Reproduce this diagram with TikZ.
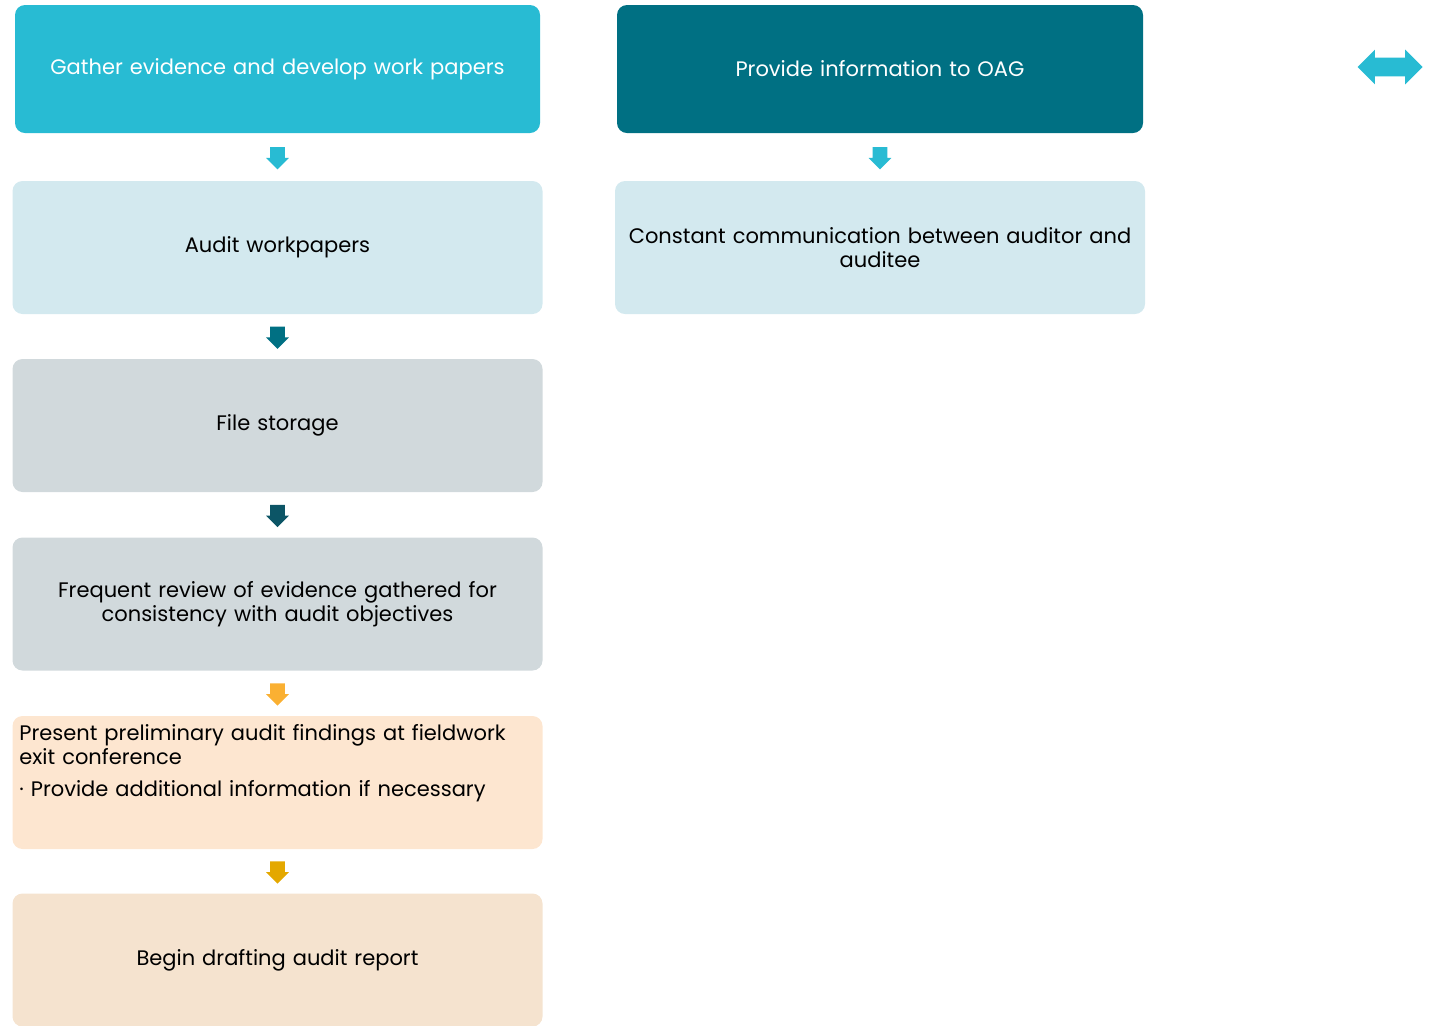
\documentclass[tikz,border=0pt]{standalone}
\usepackage{fontspec}
\setmainfont{Poppins}
\usetikzlibrary{shapes.arrows,calc,positioning}

\definecolor{oagcyan}{RGB}{40,187,211}
\definecolor{oagteal}{RGB}{0,112,131}
\definecolor{oagdark}{RGB}{12,85,102}
\definecolor{oagpaleblue}{RGB}{211,233,239}
\definecolor{oaggrey}{RGB}{209,217,220}
\definecolor{oagpeach}{RGB}{253,230,208}
\definecolor{oagsand}{RGB}{245,227,207}
\definecolor{oagorange}{RGB}{250,176,50}
\definecolor{oaggold}{RGB}{228,168,0}

\tikzset{
  stepbox/.style={rounded corners=5pt, minimum width=265pt, minimum height=66.5pt,
    text width=262pt, align=center, inner sep=0pt,
    font=\fontsize{10.5}{12}\selectfont},
  downarrow/.style={single arrow, shape border rotate=270, inner sep=3.5pt,
    minimum height=11pt, single arrow head extend=2pt}
}

\begin{document}
\begin{tikzpicture}[x=0.5pt,y=-0.5pt]
  \useasboundingbox (0,0) rectangle (1433,1025);
  \hyphenpenalty=10000

  % Left column
  \node[stepbox, fill=oagcyan, text=white, minimum width=262.5pt, minimum height=64pt] (gather) at (277.5,69) {Gather evidence and develop work papers};
  \node[stepbox, fill=oagpaleblue] (audit) at (277.5,247.5) {Audit workpapers};
  \node[stepbox, fill=oaggrey] (storage) at (277.5,425.5) {File storage};
  \node[stepbox, fill=oaggrey] (review) at (277.5,604) {Frequent review of evidence gathered for\\consistency with audit objectives};
  \node[stepbox, fill=oagpeach] (present) at (277.5,782.5) {};
  \node[anchor=north west, text width=260pt, align=left, inner sep=0pt,
    font=\fontsize{10.5}{12}\selectfont] (presenttext) at (19,724)
    {Present preliminary audit findings at fieldwork exit conference\par
     \vspace{4pt}· Provide additional information if necessary};
  \node[stepbox, fill=oagsand] (draft) at (277.5,960) {Begin drafting audit report};

  % Right column
  \node[stepbox, fill=oagteal, text=white, minimum width=263pt, minimum height=64pt] (provide) at (880,69) {Provide information to OAG};
  \node[stepbox, fill=oagpaleblue] (talk) at (880,247.5) {Constant communication between auditor and\\auditee};

  % Block arrows
  \node[downarrow, fill=oagcyan] (a1) at ($(gather.south)!0.5!(audit.north)+(0,-2.5)$) {};
  \node[downarrow, fill=oagteal] (a2) at ($(audit.south)!0.5!(storage.north)+(0,-2.5)$) {};
  \node[downarrow, fill=oagdark] (a3) at ($(storage.south)!0.5!(review.north)+(0,-2.5)$) {};
  \node[downarrow, fill=oagorange] (a4) at ($(review.south)!0.5!(present.north)+(0,-2.5)$) {};
  \node[downarrow, fill=oaggold] (a5) at ($(present.south)!0.5!(draft.north)+(0,-2.5)$) {};
  \node[downarrow, fill=oagcyan] (a6) at ($(provide.south)!0.5!(talk.north)+(0,-2.5)$) {};

  % Two-way arrow
  \node[double arrow, fill=oagcyan, inner sep=4.5pt,
    minimum height=32.5pt, double arrow head extend=4pt] (twoway) at (1390,67) {};
\end{tikzpicture}
\end{document}
